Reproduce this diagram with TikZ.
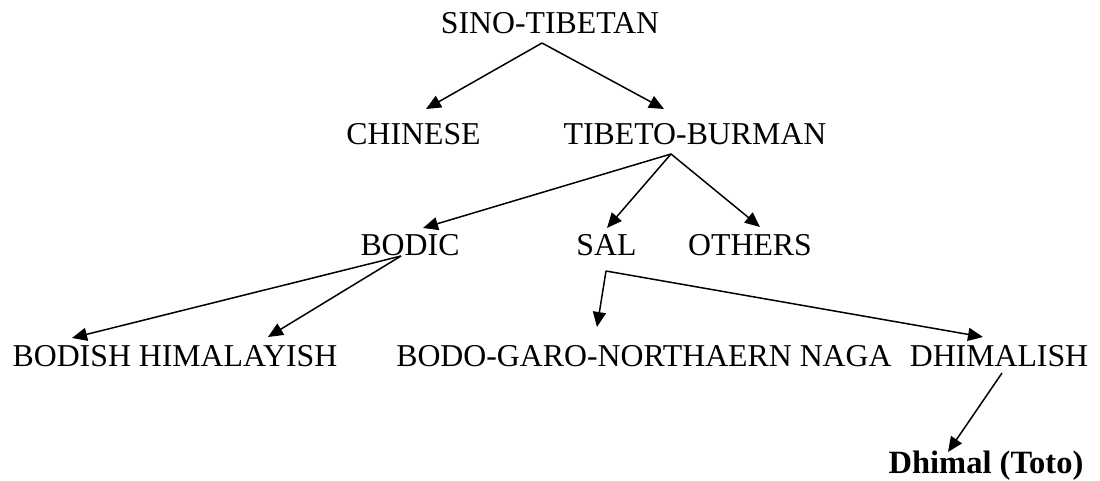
\documentclass[tikz,border=0pt]{standalone}
\usepackage{fontspec}
\setmainfont{Liberation Serif}
\usetikzlibrary{arrows.meta}
\begin{document}
\begin{tikzpicture}[x=1pt,y=-1pt,
  lang/.style={inner sep=0pt,anchor=base,font=\fontsize{31.8}{36}\selectfont},
  link/.style={line width=1.5pt,-{Triangle[length=15pt,width=13pt]}}]
\useasboundingbox (0,0) rectangle (1100,481);

% language names (positions are baselines)
\node[lang] (sino)   at (550,34)    {SINO-TIBETAN};
\node[lang] (chin)   at (413.5,145) {CHINESE};
\node[lang] (tb)     at (695,145)   {TIBETO-BURMAN};
\node[lang] (bodic)  at (410,255)   {BODIC};
\node[lang] (sal)    at (606.5,255) {SAL};
\node[lang] (oth)    at (750,255)   {OTHERS};
\node[lang] (bodish) at (175,366)   {BODISH HIMALAYISH};
\node[lang] (bodo)   at (644,366)   {BODO-GARO-NORTHAERN NAGA};
\node[lang] (dhish)  at (999,366)   {DHIMALISH};
\node[lang,font=\fontsize{32.5}{36}\selectfont\bfseries] (dhimal) at (986,473) {Dhimal (Toto)};

% branching points below each parent
\coordinate (sinoOut)  at (542,43);
\coordinate (tbOut)    at (671,154);
\coordinate (bodicOut) at (401,256);
\coordinate (salOut)   at (606,271);
\coordinate (dhishOut) at (1002,373);

% arrow ends above each child
\coordinate (chinIn)   at (426,109);
\coordinate (tbIn)     at (664,109);
\coordinate (bodicIn)  at (423,228);
\coordinate (salIn)    at (607,228);
\coordinate (othIn)    at (760,227);
\coordinate (bodishIn1) at (72,338);
\coordinate (bodishIn2) at (268,337);
\coordinate (bodoIn)   at (597,327);
\coordinate (dhishIn)  at (983,337);
\coordinate (dhimalIn) at (948,452);

\draw[link] (sinoOut) -- (chinIn);
\draw[link] (sinoOut) -- (tbIn);
\draw[link] (tbOut) -- (bodicIn);
\draw[link] (tbOut) -- (salIn);
\draw[link] (tbOut) -- (othIn);
\draw[link] (bodicOut) -- (bodishIn1);
\draw[link] (bodicOut) -- (bodishIn2);
\draw[link] (salOut) -- (bodoIn);
\draw[link] (salOut) -- (dhishIn);
\draw[link] (dhishOut) -- (dhimalIn);
\end{tikzpicture}
\end{document}
